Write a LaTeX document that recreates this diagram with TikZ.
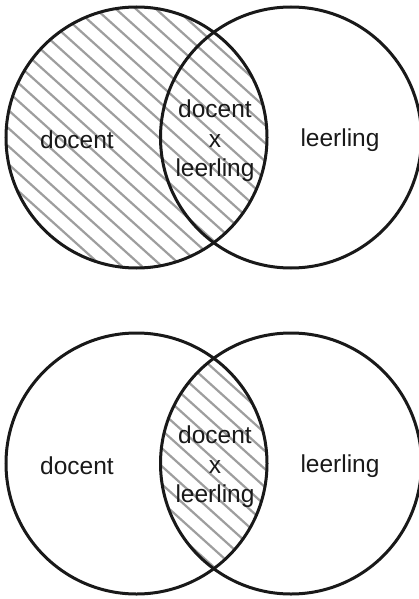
\documentclass[tikz,border=0pt]{standalone}
\usepackage{fontspec}
\setmainfont{Liberation Sans}
\begin{document}
\begin{tikzpicture}[x=1pt, y=-1pt,
  label/.style={font=\fontsize{24.5}{29.5}\selectfont, align=center, text=black!90},
  rim/.style={draw=black!90, line width=3pt},
  hatch/.style={draw=black!38, line width=2.2pt}]
  \useasboundingbox (0,0) rectangle (419,599);

  % bovenste diagram: hele cirkel docent gearceerd
  \begin{scope}
    \clip (136.5,137.5) circle[radius=130.5pt];
    \foreach \s in {-16,...,15}
      \draw[hatch] (\s*20+6,0) -- ++(400,360);
  \end{scope}
  \draw[rim] (136.5,137.5) circle[radius=130.5pt];
  \draw[rim] (291,137.5) circle[radius=130.5pt];
  \node[label] (docentA) at (77,140) {docent};
  \node[label] (leerlingA) at (340,140) {leerling};
  \node[label] (snedeA) at (215,141) {docent\\x\\leerling};

  % onderste diagram: alleen de doorsnede gearceerd
  \begin{scope}
    \clip (136.5,463.5) circle[radius=130.5pt];
    \clip (291,463.5) circle[radius=130.5pt];
    \foreach \s in {-16,...,15}
      \draw[hatch] (\s*20+6,326) -- ++(400,360);
  \end{scope}
  \draw[rim] (136.5,463.5) circle[radius=130.5pt];
  \draw[rim] (291,463.5) circle[radius=130.5pt];
  \node[label] (docentB) at (77,466) {docent};
  \node[label] (leerlingB) at (340,466) {leerling};
  \node[label] (snedeB) at (215,467) {docent\\x\\leerling};
\end{tikzpicture}
\end{document}
